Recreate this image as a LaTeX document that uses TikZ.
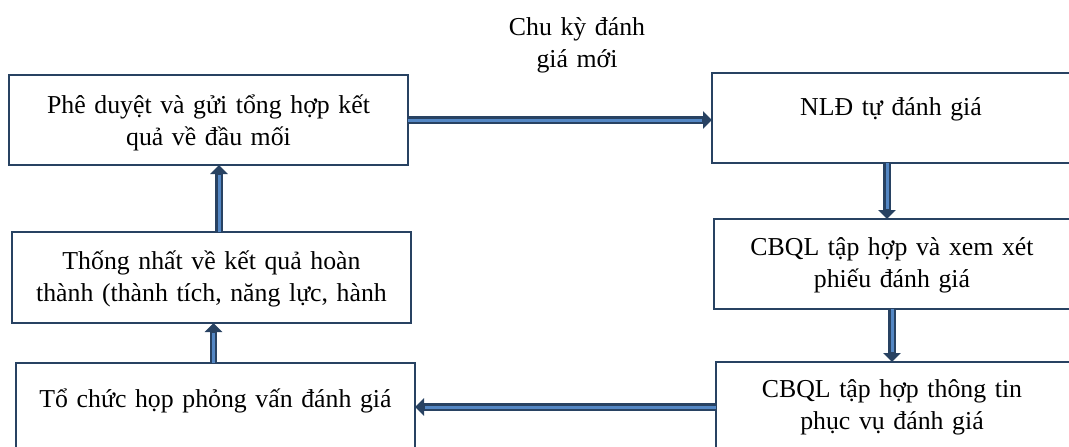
\documentclass[tikz,border=0pt]{standalone}
\usepackage{fontspec}
\setmainfont{Liberation Serif}
\usetikzlibrary{arrows.meta}
\definecolor{boxline}{RGB}{40,66,98}
\definecolor{flowfill}{RGB}{84,135,196}
\begin{document}
\begin{tikzpicture}[x=1pt,y=-1pt,
  stepbox/.style={draw=boxline, line width=2.6pt, rectangle, minimum height=90pt,
    inner sep=0pt, outer sep=0pt, fill=white},
  boxtext/.style={anchor=base, align=center, inner sep=0pt,
    font=\fontsize{25.8}{32}\selectfont},
  flow/.style={draw=boxline, line width=7.5pt,
    -{Triangle[width=17pt,length=9pt]},
    postaction={draw=flowfill, line width=3pt, -, shorten >=10pt}}]
\useasboundingbox (0,0) rectangle (1069,447);

% process boxes (the right column and bottom row run past the page edge)
\begin{scope}
\clip (0,0) rectangle (1069,447);
\node[stepbox, minimum width=399pt] (b1) at (208.5,120) {};
\node[stepbox, minimum width=358pt] (b2) at (891,118) {};
\node[stepbox, minimum width=356pt] (b3) at (892,264) {};
\node[stepbox, minimum width=356pt] (b4) at (894,407) {};
\node[stepbox, minimum width=399pt, minimum height=91pt] (b5) at (211.5,277.5) {};
\node[stepbox, minimum width=399pt] (b6) at (215.5,408) {};
\end{scope}

% box captions
\node[boxtext, text width=399pt] (t1) at (208.5,113) {Phê duyệt và gửi tổng hợp kết\\quả về đầu mối};
\node[boxtext, text width=358pt] (t2) at (891,115) {NLĐ tự đánh giá};
\node[boxtext, text width=356pt] (t3) at (892,255) {CBQL tập hợp và xem xét\\phiếu đánh giá};
\node[boxtext, text width=356pt] (t4) at (892,397) {CBQL tập hợp thông tin\\phục vụ đánh giá};
\node[boxtext, text width=399pt] (t5) at (211.5,269) {Thống nhất về kết quả hoàn\\thành (thành tích, năng lực, hành};
\node[boxtext, text width=399pt] (t6) at (215.5,407) {Tổ chức họp phỏng vấn đánh giá};

% cycle label
\node[boxtext, text width=200pt] (cycle) at (577,35) {Chu kỳ đánh\\giá mới};

% flow arrows
\draw[flow] (b1.east) -- (b1.east -| b2.west);
\draw[flow] ([xshift=-4pt]b2.south) -- ([xshift=-4pt]b2.south |- b3.north);
\draw[flow] (b3.south) -- (b3.south |- b4.north);
\draw[flow] (b4.west) -- (b4.west -| b6.east);
\draw[flow] ([xshift=-2pt]b6.north) -- ([xshift=-2pt]b6.north |- b5.south);
\draw[flow] ([xshift=7.5pt]b5.north) -- ([xshift=7.5pt]b5.north |- b1.south);
\end{tikzpicture}
\end{document}
